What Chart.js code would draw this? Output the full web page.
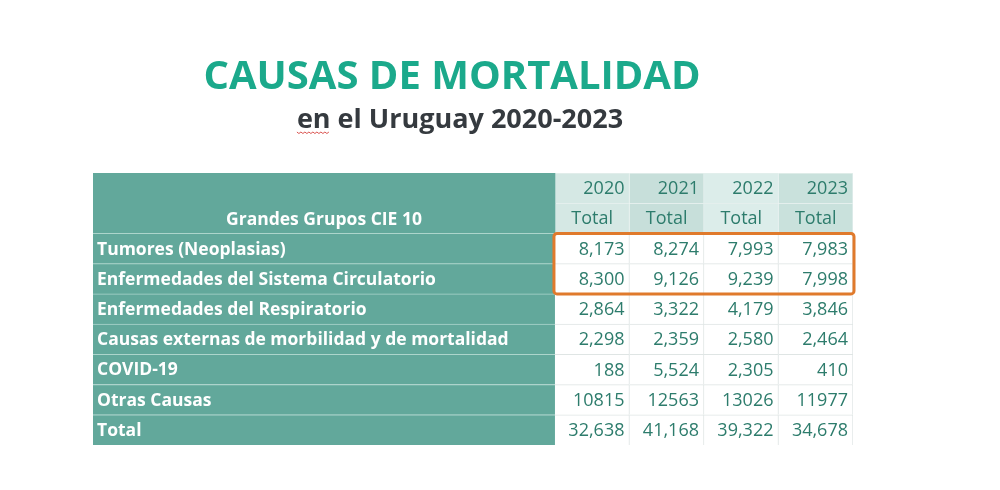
<!doctype html>
<html>
<head>
    <meta charset="UTF-8">
    <title>Causas de mortalidad</title>
    <script src="https://cdn.jsdelivr.net/npm/chart.js@4.4.1/dist/chart.umd.min.js"></script>
    <style>
        body { margin: 0; background: #ffffff; }
        canvas { display: block; }
    </style>
</head>
<body>
<canvas id="tabla" width="1000" height="490"></canvas>
<script>
    // datos
    var causas = ['Tumores (Neoplasias)', 'Enfermedades del Sistema Circulatorio', 'Enfermedades del Respiratorio',
        'Causas externas de morbilidad y de mortalidad', 'COVID-19', 'Otras Causas', 'Total'];
    var anios = ['2020', '2021', '2022', '2023'];
    var v2020 = [8173, 8300, 2864, 2298, 188, 10815, 32638];
    var v2021 = [8274, 9126, 3322, 2359, 5524, 12563, 41168];
    var v2022 = [7993, 9239, 4179, 2580, 2305, 13026, 39322];
    var v2023 = [7983, 7998, 3846, 2464, 410, 11977, 34678];
    var sinSeparador = ['Otras Causas'];   // esta fila va sin coma de miles
    var resaltadas = ['Tumores (Neoplasias)', 'Enfermedades del Sistema Circulatorio'];
    var encabezado = 'Grandes Grupos CIE 10';
    var subEncabezado = 'Total';

    var valores = [v2020, v2021, v2022, v2023];

    // layout: ancho de la columna de nombres en unidades de columna
    var anchoNombres = 6.2;
    var filas = ['anio', 'total'].concat(causas);

    var teal = '#62a89b';
    var fondoAnio = ['#d5e8e4', '#c7dfda', '#dcedea', '#c9e1dc'];

    function fmt(n, causa) {
        if (sinSeparador.indexOf(causa) >= 0) return String(n);
        return n.toLocaleString('en-US');
    }

    var datasets = [];
    // columna de nombres
    datasets.push({
        data: filas.map(function () { return [0, anchoNombres]; }),
        backgroundColor: teal,
        borderColor: '#add5cc',
        borderWidth: filas.map(function (f, i) { return i < 2 ? 0 : {top: 1, right: 0, bottom: 0, left: 0}; }),
        borderSkipped: false
    });
    // columnas de años
    anios.forEach(function (a, c) {
        datasets.push({
            data: filas.map(function () { return [anchoNombres + c, anchoNombres + c + 1]; }),
            backgroundColor: filas.map(function (f, i) { return i < 2 ? fondoAnio[c] : '#ffffff'; }),
            borderColor: filas.map(function (f, i) { return i < 2 ? '#e4efed' : '#dfe5e4'; }),
            borderWidth: {top: 1, right: 1, bottom: 0, left: 0},
            borderSkipped: false
        });
    });

    var textos = {
        id: 'textos',
        afterDatasetsDraw: function (chart) {
            var ctx = chart.ctx;
            var x = chart.scales.x, y = chart.scales.y;
            ctx.save();
            ctx.textBaseline = 'middle';

            // encabezado columna nombres
            ctx.fillStyle = '#ffffff';
            ctx.font = 'bold 17.5px "Open Sans"';
            ctx.textAlign = 'center';
            ctx.fillText(encabezado, x.getPixelForValue(anchoNombres / 2), y.getPixelForValue(1) + 2);

            // nombres de causas
            ctx.textAlign = 'left';
            causas.forEach(function (c, i) {
                ctx.fillText(c, x.getPixelForValue(0) + 4, y.getPixelForValue(i + 2) + 1);
            });

            // años y "Total"
            ctx.fillStyle = '#2d7c6c';
            ctx.font = '18px "Open Sans"';
            anios.forEach(function (a, c) {
                ctx.textAlign = 'right';
                ctx.fillText(a, x.getPixelForValue(anchoNombres + c + 1) - 5, y.getPixelForValue(0) + 1);
                ctx.textAlign = 'center';
                ctx.fillText(subEncabezado, x.getPixelForValue(anchoNombres + c + 0.5), y.getPixelForValue(1) + 1);
            });

            // valores
            ctx.textAlign = 'right';
            valores.forEach(function (serie, c) {
                serie.forEach(function (v, i) {
                    ctx.fillText(fmt(v, causas[i]), x.getPixelForValue(anchoNombres + c + 1) - 5, y.getPixelForValue(i + 2) + 1);
                });
            });

            // recuadro naranja
            var i0 = filas.indexOf(resaltadas[0]);
            var i1 = filas.indexOf(resaltadas[resaltadas.length - 1]);
            var left = x.getPixelForValue(anchoNombres) - 1;
            var right = x.getPixelForValue(anchoNombres + anios.length) + 1;
            var top = y.getPixelForValue(i0 - 0.5);
            var bottom = y.getPixelForValue(i1 + 0.5);
            ctx.strokeStyle = '#e07a2c';
            ctx.lineWidth = 3;
            ctx.beginPath();
            ctx.roundRect(left, top, right - left, bottom - top, 3);
            ctx.stroke();

            // títulos
            ctx.textBaseline = 'alphabetic';
            ctx.textAlign = 'center';
            ctx.fillStyle = '#1ba98b';
            ctx.font = 'bold 40px "Open Sans"';
            ctx.fillText('CAUSAS DE MORTALIDAD', 452, 89);
            ctx.fillStyle = '#353a3f';
            ctx.font = 'bold 27px "Open Sans"';
            ctx.fillText('en el Uruguay 2020-2023', 460, 128);

            // subrayado del corrector bajo "en"
            var w = ctx.measureText('en el Uruguay 2020-2023').width;
            var x0 = 460 - w / 2, x1 = x0 + ctx.measureText('en').width;
            ctx.strokeStyle = '#d9534f';
            ctx.lineWidth = 1;
            ctx.beginPath();
            for (var px = x0, k = 0; px <= x1; px += 2, k++) {
                var py = 132 + (k % 2 ? 1.5 : 0);
                if (k === 0) ctx.moveTo(px, py); else ctx.lineTo(px, py);
            }
            ctx.stroke();
            ctx.restore();
        }
    };

    var config = {
        type: 'bar',
        data: {
            labels: filas,
            datasets: datasets
        },
        options: {
            indexAxis: 'y',
            responsive: false,
            animation: false,
            devicePixelRatio: 1,
            layout: {
                padding: {left: 93, right: 147, top: 173, bottom: 45}
            },
            datasets: {
                bar: {
                    grouped: false,
                    barPercentage: 1,
                    categoryPercentage: 1
                }
            },
            scales: {
                x: {type: 'linear', min: 0, max: anchoNombres + anios.length, display: false},
                y: {display: false}
            },
            plugins: {
                legend: {display: false},
                tooltip: {enabled: false},
                title: {display: false}
            }
        },
        plugins: [textos]
    };

    var ctx = document.getElementById('tabla').getContext('2d');
    window.tabla = new Chart(ctx, config);
</script>
</body>
</html>
